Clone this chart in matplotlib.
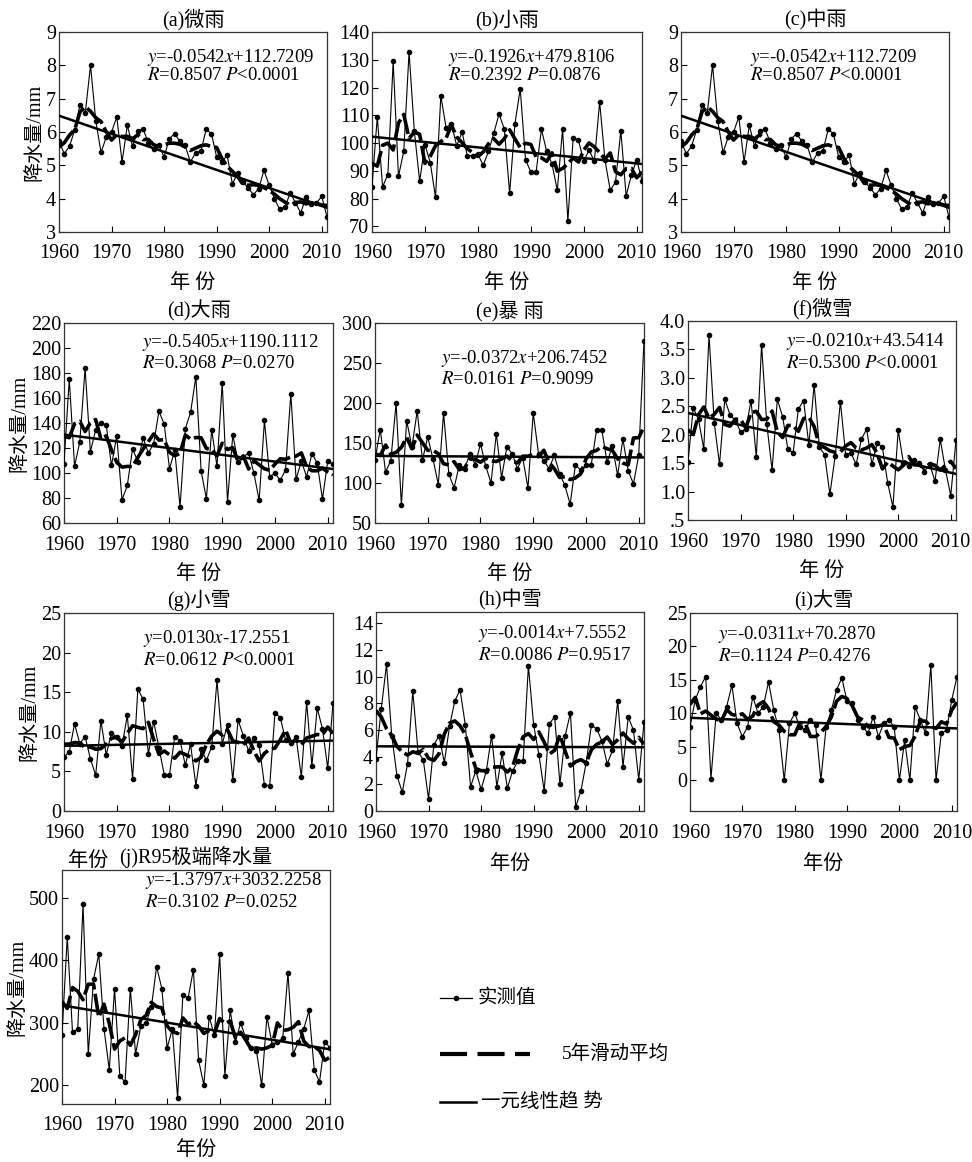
import numpy as np
import pandas as pd
import matplotlib
matplotlib.use('Agg')
import matplotlib.pyplot as plt

plt.rcParams['font.family'] = ['Liberation Serif', 'Noto Sans CJK SC']
plt.rcParams['mathtext.fontset'] = 'stix'
plt.rcParams['axes.unicode_minus'] = False

years = list(range(1960, 2012))

weiyu = [5.72, 5.35, 5.57, 6.07, 6.82, 6.57, 8.0, 6.33, 5.39, 5.85,
         6.0, 6.45, 5.1, 6.2, 5.57, 6.04, 6.09, 5.68, 5.48, 5.6,
         5.25, 5.8, 5.95, 5.72, 5.6, 5.1, 5.38, 5.42, 6.08, 5.95,
         5.25, 5.1, 5.3, 4.44, 4.77, 4.5, 4.32, 4.12, 4.3, 4.85,
         4.4, 4.0, 3.68, 3.75, 4.17, 3.88, 3.57, 4.05, 3.85, 3.87,
         4.07, 3.45]
xiaoyu = [84.3, 109.5, 84.3, 88.7, 129.5, 88.0, 97.1, 132.8, 104.3, 86.3,
          99.5, 93.0, 80.5, 117.0, 105.5, 107.0, 99.0, 104.0, 95.5, 95.5,
          96.0, 92.0, 97.0, 103.5, 110.5, 105.0, 82.0, 107.0, 119.5, 94.0,
          89.6, 89.6, 105.0, 97.0, 92.5, 83.0, 105.0, 72.0, 102.0, 101.0,
          93.5, 97.5, 93.5, 114.8, 94.0, 83.0, 86.0, 104.5, 81.0, 88.5,
          94.0, 86.5]
zhongyu = list(weiyu)
dayu = [107.5, 175, 105.5, 125, 184, 117, 134.5, 140, 138.5, 106,
        129.5, 78.5, 90, 119.5, 109, 128, 116, 123.5, 149.5, 139,
        103.5, 118, 73, 135.5, 148.5, 177, 101.5, 79.5, 134.5, 105.5,
        172, 77, 130.5, 109, 113, 116, 100, 78, 142, 97,
        100, 94, 102.5, 163.5, 95, 109.5, 97, 115.5, 108, 79,
        109.5, 107]
baoyu = [129, 166.7, 113.8, 128, 200, 72, 178, 145, 190, 129,
         157.5, 130, 98, 187.5, 111, 94, 123, 118, 136.7, 123,
         149, 121, 100, 161.7, 106.7, 145, 136.7, 118, 131.7, 93.8,
         187.5, 136.7, 128, 118, 134.6, 111.7, 97, 73.3, 123, 116,
         122, 123, 166, 166.7, 126, 146, 109.6, 155, 115, 99,
         134.6, 278]
weixue = [1.52, 2.47, 2.27, 1.75, 3.75, 2.2, 1.48, 2.62, 2.35, 2.25,
          2.05, 2.1, 2.6, 1.6, 3.58, 2.18, 1.38, 2.62, 2.32, 1.75,
          1.68, 2.45, 2.6, 1.82, 2.88, 1.78, 1.65, 0.95, 1.62, 2.58,
          1.65, 1.68, 1.48, 1.92, 2.1, 1.48, 1.85, 1.78, 1.15, 0.73,
          2.08, 1.5, 1.45, 1.55, 1.5, 1.35, 1.48, 1.18, 1.92, 1.38,
          0.93, 1.9]
xiaoxue = [6.8, 7.5, 11.0, 8.5, 9.4, 6.6, 4.5, 11.4, 7.1, 9.8,
           9.4, 8.2, 12.1, 4.0, 15.4, 14.1, 7.2, 11.3, 8.0, 4.6,
           4.6, 9.4, 8.9, 5.8, 8.4, 3.2, 7.8, 6.4, 8.1, 16.5,
           8.5, 10.9, 3.9, 11.5, 9.5, 7.6, 9.2, 8.3, 3.3, 3.2,
           12.4, 11.8, 9.0, 8.6, 9.3, 4.3, 13.8, 5.7, 13.0, 10.4,
           5.4, 13.6]
zhongxue = [3.9, 7.6, 10.9, 5.6, 2.6, 1.4, 3.5, 8.9, 4.4, 3.8,
            0.9, 4.9, 5.6, 3.6, 6.3, 8.2, 9.0, 6.4, 1.8, 3.0,
            1.6, 3.0, 5.6, 1.8, 4.3, 1.7, 3.0, 3.7, 3.7, 10.8,
            6.4, 4.2, 1.5, 6.5, 7.0, 2.0, 5.6, 7.3, 0.3, 1.5,
            3.6, 6.4, 6.1, 5.2, 3.5, 4.5, 8.2, 3.3, 7.0, 6.0,
            2.3, 6.6]
daxue = [8.0, 12.0, 14.0, 15.5, 0.2, 10.0, 9.0, 11.0, 14.2, 8.5,
         6.5, 8.0, 12.5, 10.0, 11.0, 14.7, 10.5, 7.5, 0.0, 8.5,
         10.0, 8.0, 7.5, 9.0, 8.2, 0.0, 8.0, 10.5, 13.5, 15.3,
         11.8, 11.5, 9.0, 8.0, 7.0, 9.5, 6.5, 8.5, 9.0, 8.0,
         0.0, 6.0, 0.0, 11.0, 9.0, 7.0, 17.2, 0.0, 7.0, 7.5,
         12.0, 15.5]
r95 = [280, 438, 285, 290, 490, 250, 370, 410, 290, 225,
       355, 215, 205, 355, 250, 295, 300, 325, 390, 355,
       260, 290, 180, 345, 340, 385, 240, 200, 310, 280,
       410, 215, 320, 270, 300, 275, 260, 255, 200, 310,
       265, 270, 275, 380, 250, 270, 290, 320, 225, 205,
       270, 260]

titles = ['(a)微雨', '(b)小雨', '(c)中雨', '(d)大雨', '(e)暴 雨', '(f)微雪',
          '(g)小雪', '(h)中雪', '(i)大雪', '(j)R95极端降水量']
slopes = [-0.0542, -0.1926, -0.0542, -0.5405, -0.0372, -0.0210,
          0.0130, -0.0014, -0.0311, -1.3797]
intercepts = [112.7209, 479.8106, 112.7209, 1190.1112, 206.7452, 43.5414,
              -17.2551, 7.5552, 70.2870, 3032.2258]
eq_texts = [r'$y$=-0.0542$x$+112.7209', r'$y$=-0.1926$x$+479.8106',
            r'$y$=-0.0542$x$+112.7209', r'$y$=-0.5405$x$+1190.1112',
            r'$y$=-0.0372$x$+206.7452', r'$y$=-0.0210$x$+43.5414',
            r'$y$=0.0130$x$-17.2551', r'$y$=-0.0014$x$+7.5552',
            r'$y$=-0.0311$x$+70.2870', r'$y$=-1.3797$x$+3032.2258']
rp_texts = [r'$R$=0.8507 $P$<0.0001', r'$R$=0.2392 $P$=0.0876',
            r'$R$=0.8507 $P$<0.0001', r'$R$=0.3068 $P$=0.0270',
            r'$R$=0.0161 $P$=0.9099', r'$R$=0.5300 $P$<0.0001',
            r'$R$=0.0612 $P$<0.0001', r'$R$=0.0086 $P$=0.9517',
            r'$R$=0.1124 $P$=0.4276', r'$R$=0.3102 $P$=0.0252']
series = [weiyu, xiaoyu, zhongyu, dayu, baoyu, weixue, xiaoxue, zhongxue, daxue, r95]

xticks = [1960, 1970, 1980, 1990, 2000, 2010]

# layout (pixel boxes: left, right, top, bottom)
boxes = [(59, 327, 32, 232), (372, 642, 32, 232), (681, 949, 32, 232),
         (64, 333, 323, 523), (375, 644, 323, 523), (688, 956, 321, 520),
         (64, 333, 613, 811), (376, 644, 612, 811), (690, 957, 613, 811),
         (62, 330, 870, 1104)]
ylims = [(3, 9), (68, 140), (3, 9), (60, 220), (50, 300), (0.5, 4.0),
         (0, 25), (0, 14.8), (-4.6, 25), (170, 545)]
yticks = [list(range(3, 10)), list(range(70, 141, 10)), list(range(3, 10)),
          list(range(60, 221, 20)), list(range(50, 301, 50)),
          [0.5, 1.0, 1.5, 2.0, 2.5, 3.0, 3.5, 4.0],
          list(range(0, 26, 5)), list(range(0, 15, 2)), list(range(0, 26, 5)),
          [200, 300, 400, 500]]
text_pos = [(0.33, 0.875, 0.78), (0.28, 0.875, 0.78), (0.257, 0.875, 0.78),
            (0.29, 0.90, 0.795), (0.245, 0.82, 0.715), (0.366, 0.895, 0.785),
            (0.295, 0.87, 0.76), (0.38, 0.89, 0.78), (0.105, 0.89, 0.78),
            (0.31, 0.955, 0.862)]
xlabels = ['年 份'] * 6 + ['年份'] * 4
xlabel_x = [0.5] * 6 + [0.09, 0.5, 0.5, 0.5]
xlabel_y = [-0.21] * 6 + [-0.205, -0.22, -0.22] + [-0.16]
ylabel_panels = [0, 3, 6, 9]

W, H = 972, 1162
fig = plt.figure(figsize=(W / 100, H / 100), dpi=100)

yrs = np.array(years)
for i in range(10):
    l, r, t, b = boxes[i]
    ax = fig.add_axes([l / W, 1 - b / H, (r - l) / W, (b - t) / H])
    vals = np.array(series[i], dtype=float)
    ma = pd.Series(vals).rolling(5, center=True, min_periods=1).mean().values
    trend = slopes[i] * yrs + intercepts[i]
    ax.plot(yrs, vals, color='black', lw=0.8, marker='o', ms=3, zorder=3)
    ax.plot(yrs, ma, color='black', lw=2.6, ls=(0, (6, 1.2)), zorder=4)
    ax.plot(yrs, trend, color='black', lw=1.8, zorder=5)
    ax.set_xlim(1960, 2011)
    ax.set_ylim(*ylims[i])
    ax.set_xticks(xticks)
    ax.set_yticks(yticks[i])
    if i == 5:
        ax.set_yticklabels(['.5', '1.0', '1.5', '2.0', '2.5', '3.0', '3.5', '4.0'])
    ax.tick_params(direction='in', length=4, width=0.8, labelsize=14.5)
    ax.tick_params(axis='x', pad=9)
    ax.tick_params(axis='y', pad=2)
    for s in ax.spines.values():
        s.set_linewidth(0.9)
        s.set_color('#333333')
    ax.set_title(titles[i], fontsize=14.5, pad=5)
    ax.set_xlabel(xlabels[i], fontsize=14.5)
    ax.xaxis.set_label_coords(xlabel_x[i], xlabel_y[i])
    if i in ylabel_panels:
        ax.set_ylabel('降水量/mm', fontsize=14.5, labelpad=1)
    tx, ty1, ty2 = text_pos[i]
    ax.text(tx, ty1, eq_texts[i], transform=ax.transAxes, fontsize=13.5,
            va='center', ha='left')
    ax.text(tx, ty2, rp_texts[i], transform=ax.transAxes, fontsize=13.5,
            va='center', ha='left')

# legend area
lax = fig.add_axes([0, 0, 1, 1], facecolor='none')
lax.set_xlim(0, W)
lax.set_ylim(H, 0)
lax.axis('off')
lax.plot([440, 472], [998, 998], color='black', lw=0.9)
lax.plot([456], [998], color='black', marker='o', ms=3)
lax.text(478, 998, '实测值', fontsize=14, va='center')
lax.plot([440, 530], [1054, 1054], color='black', lw=3.0, ls=(0, (6.5, 2.5)))
lax.text(562, 1054, '5年滑动平均', fontsize=14, va='center')
lax.plot([440, 476], [1102, 1102], color='black', lw=1.8)
lax.text(481, 1102, '一元线性趋 势', fontsize=14, va='center')

fig.savefig('out.png', dpi=100)
